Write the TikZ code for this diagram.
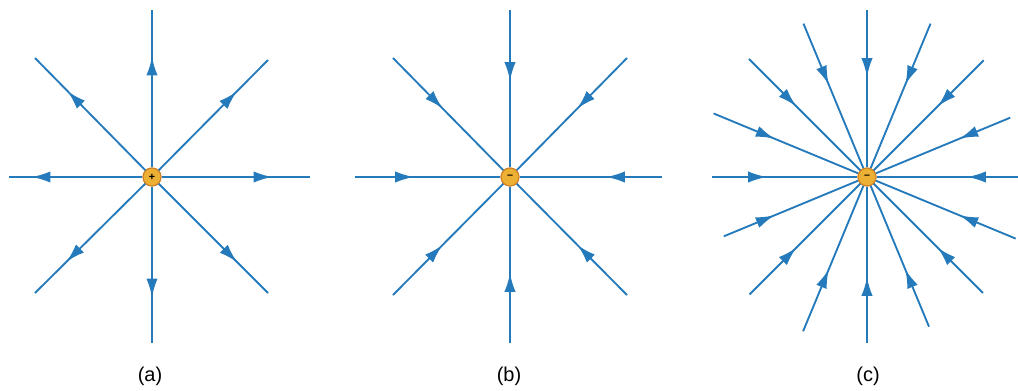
\documentclass[tikz,border=0pt]{standalone}
\usepackage{fontspec}
\setmainfont{Liberation Sans}
\usetikzlibrary{arrows.meta,decorations.markings}
\definecolor{fieldblue}{RGB}{36,122,186}
\definecolor{chargefill}{RGB}{236,176,52}
\definecolor{chargeedge}{RGB}{205,128,40}
\tikzset{
  fieldtip/.tip={Latex[length=14pt,width=8.5pt]},
  fieldline/.style={draw=fieldblue, line width=1.4pt},
  outline/.style={fieldline, postaction={decorate}, decoration={markings,
     mark=at position 83pt with {\arrow{fieldtip}}}},
  inline/.style={fieldline, postaction={decorate}, decoration={markings,
     mark=at position #1 with {\arrowreversed{fieldtip}}}},
  inline/.default=65pt,
  charge/.style={circle, draw=chargeedge, fill=chargefill, line width=0.8pt,
     minimum size=13.5pt, inner sep=0pt, font=\fontsize{8}{8}\selectfont\bfseries},
  panellabel/.style={font=\fontsize{15}{17}\selectfont}
}
\begin{document}
\begin{tikzpicture}[x=0.75pt,y=-0.75pt]
\useasboundingbox (0,0) rectangle (1018,390);
% ---------- (a) ----------
\coordinate (ca0) at (152,177);
\coordinate (aN) at (152,10);
\coordinate (aS) at (152,343);
\coordinate (aW) at (9,177);
\coordinate (aE) at (310,177);
\coordinate (aNW) at (35,58);
\coordinate (aNE) at (268,60);
\coordinate (aSW) at (35,293);
\coordinate (aSE) at (268,293);
\node[charge] (qa) at (ca0) {+};
\foreach \e in {aN,aS,aW,aE,aNW,aNE,aSW,aSE}
  \draw[outline] (qa) -- (\e);
\node[charge] at (qa) {+};
\node[panellabel] (la) at (150,376) {(a)};
% ---------- (b) ----------
\coordinate (cb0) at (510,177);
\coordinate (bN) at (510,10);
\coordinate (bS) at (510,343);
\coordinate (bW) at (355,177);
\coordinate (bE) at (662,177);
\coordinate (bNW) at (393,58);
\coordinate (bNE) at (627,58);
\coordinate (bSW) at (393,295);
\coordinate (bSE) at (627,295);
\node[charge] (qb) at (cb0) {\raisebox{0.4pt}{--}};
\foreach \e in {bN,bS,bW,bE,bNW,bNE,bSW,bSE}
  \draw[inline] (qb) -- (\e);
\node[charge] at (qb) {\raisebox{0.4pt}{--}};
\node[panellabel] (lb) at (509,376) {(b)};
% ---------- (c) ----------
\coordinate (cc0) at (867,177);
\node[charge] (qc) at (cc0) {\raisebox{0.4pt}{--}};
\foreach \i/\a/\r in {0/0/151, 1/22.5/161, 2/45/164, 3/67.5/162, 4/90/166,
  5/112.5/167, 6/135/166, 7/157.5/155, 8/180/155, 9/202.5/166, 10/225/167,
  11/247.5/166, 12/270/167, 13/292.5/166, 14/315/165, 15/337.5/155}{
  \path (cc0) ++(\a:\r) coordinate (c\i);
  \draw[inline=68pt] (qc) -- (c\i);
}
\node[charge] at (qc) {\raisebox{0.4pt}{--}};
\node[panellabel] (lc) at (868,376) {(c)};
\end{tikzpicture}
\end{document}
